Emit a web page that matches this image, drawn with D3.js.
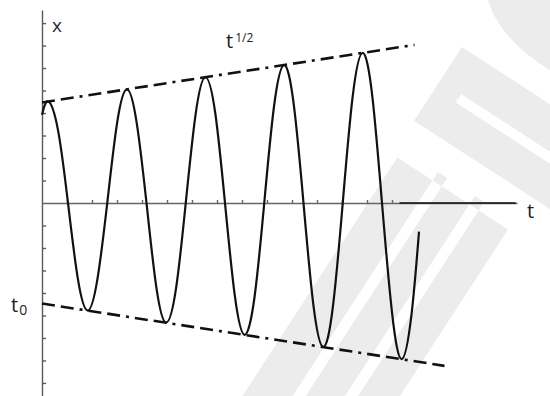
<!DOCTYPE html>
<html>
<head>
<meta charset="utf-8">
<script src="https://cdn.jsdelivr.net/npm/d3@7"></script>
<style>
  html, body { margin: 0; padding: 0; background: #fff; }
  svg { display: block; }
  text { font-family: "Open Sans", "Noto Sans", sans-serif; }
</style>
</head>
<body>
<svg id="chart" width="550" height="396"></svg>
<script>
// Oscillation x(t) whose amplitude widens along the t^(1/2) envelope
const waveT = [0, 0.25, 0.64, 1.04, 1.43, 1.82, 2.21, 2.61, 3.00, 3.39,
               3.78, 4.18, 4.57, 4.96, 5.36, 5.75, 6.14, 6.53, 6.93, 7.32,
               7.71, 8.10, 8.50, 8.89, 9.28, 9.68, 10.07, 10.46, 10.85, 11.25,
               11.64, 12.03, 12.42, 12.82, 13.21, 13.60, 14.00, 14.39, 14.78, 15.08];
const waveX = [3.92, 4.51, 3.24, 0, -3.34, -4.78, -3.43, 0, 3.53, 5.05,
               3.62, 0, -3.72, -5.32, -3.81, 0, 3.91, 5.59, 4.00, 0,
               -4.10, -5.86, -4.19, 0, 4.29, 6.13, 4.38, 0, -4.48, -6.40,
               -4.57, 0, 4.67, 6.67, 4.77, 0, -4.86, -6.94, -4.96, -1.27];

const upperEnvT = [0, 14.9];
const upperEnvX = [4.47, 7.03];
const lowerEnvT = [0, 16.1];
const lowerEnvX = [-4.47, -7.24];

const xTicks = [1, 2, 3, 4, 5, 6, 7, 8, 9, 10, 11, 12, 13, 14];
const yTicks = [-8, -7, -6, -5, -4, -3, -2, -1, 1, 2, 3, 4, 5, 6, 7, 8];

const svg = d3.select("#chart");

const xScale = d3.scaleLinear().domain([0, 19]).range([42, 517]);
const yScale = d3.scaleLinear().domain([-8.58, 8.58]).range([396, 10]);

// faint diagonal backdrop shapes
const bg = svg.append("g").attr("fill", "#ececec");
bg.append("path").attr("d", "M488,0 L550,0 L550,70 C526,56 496,30 488,0 Z");
const tilt = bg.append("g").attr("transform", "translate(462,47) rotate(33)");
tilt.append("path")
  .attr("fill-rule", "evenodd")
  .attr("d", "M0,0 H170 V88 H0 Z M25,40 H175 V50 H25 Z");
tilt.append("path")
  .attr("fill-rule", "evenodd")
  .attr("d", "M6,128 H138 V440 H6 Z M48,118 H59 V390 H48 Z M92,118 H103 V390 H92 Z");

// axes
const yAxis = d3.axisRight(yScale).tickValues(yTicks).tickSize(4).tickSizeOuter(0).tickFormat("");
const gy = svg.append("g").attr("transform", `translate(${xScale(0)},0)`).call(yAxis);
gy.selectAll("path, line").attr("stroke", "#5a5a5a").attr("stroke-width", 1.4);

const xAxis = d3.axisTop(xScale).tickValues(xTicks).tickSize(3).tickSizeOuter(0).tickFormat("");
const gx = svg.append("g").attr("transform", `translate(0,${yScale(0)})`).call(xAxis);
gx.selectAll("path, line").attr("stroke", "#666").attr("stroke-width", 1.4);

svg.append("line")
  .attr("x1", xScale(14.3)).attr("x2", xScale(18.95))
  .attr("y1", yScale(0)).attr("y2", yScale(0))
  .attr("stroke", "#111").attr("stroke-width", 1.6);

// envelope lines
const envLine = d3.line().x(d => xScale(d[0])).y(d => yScale(d[1]));
[[upperEnvT, upperEnvX], [lowerEnvT, lowerEnvX]].forEach(([ts, xs]) => {
  svg.append("path")
    .datum(ts.map((t, i) => [t, xs[i]]))
    .attr("d", envLine)
    .attr("fill", "none")
    .attr("stroke", "#111")
    .attr("stroke-width", 2.6)
    .attr("stroke-dasharray", "13,6,13,6,3,6");
});

// oscillation
const wave = d3.line()
  .x(d => xScale(d[0]))
  .y(d => yScale(d[1]))
  .curve(d3.curveNatural);
svg.append("path")
  .datum(waveT.map((t, i) => [t, waveX[i]]))
  .attr("d", wave)
  .attr("fill", "none")
  .attr("stroke", "#111")
  .attr("stroke-width", 2.2);

// labels
svg.append("text").attr("x", 52).attr("y", 32)
  .attr("font-size", 19).attr("fill", "#2b2b38").text("x");
svg.append("text").attr("x", 527).attr("y", 218)
  .attr("font-size", 20).attr("fill", "#222").text("t");

const sqrtLabel = svg.append("text").attr("x", 226).attr("y", 48).attr("fill", "#222");
sqrtLabel.append("tspan").attr("font-size", 20).text("t");
sqrtLabel.append("tspan").attr("font-size", 12).attr("dy", -6).attr("dx", 2).text("1/2");

const t0Label = svg.append("text").attr("x", 11).attr("y", 312).attr("fill", "#222");
t0Label.append("tspan").attr("font-size", 20).text("t");
t0Label.append("tspan").attr("font-size", 14).attr("dy", 3).attr("dx", 1).text("0");
</script>
</body>
</html>
